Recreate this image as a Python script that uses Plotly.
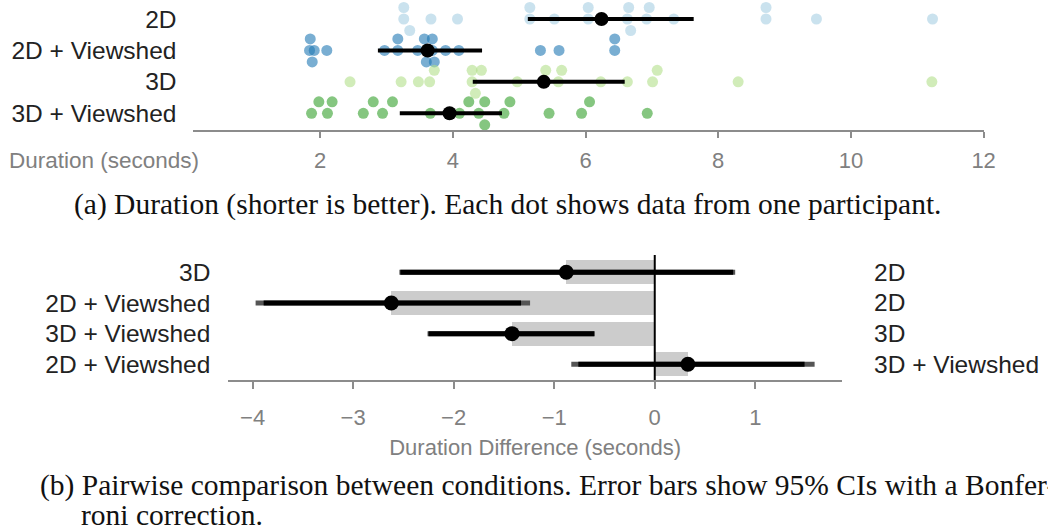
import numpy as np
import plotly.graph_objects as go

W, H = 1049, 527

# ---------------- data ----------------
conditions = ["2D", "2D + Viewshed", "3D", "3D + Viewshed"]

dur_2d = [3.26, 3.26, 3.35, 3.67, 4.07, 5.16, 5.16, 5.53, 6.04, 6.04,
          6.63, 6.65, 6.68, 6.92, 6.96, 7.33, 8.72, 8.72, 9.48, 11.23]
dur_2d_vs = [1.84, 1.85, 1.88, 1.91, 2.10, 2.97, 3.17, 3.17, 3.47, 3.57,
             3.60, 3.69, 3.69, 3.72, 3.89, 4.09, 5.32, 5.60, 6.44, 6.44]
dur_3d = [2.45, 3.22, 3.48, 3.65, 3.72, 4.29, 4.29, 4.34, 4.43, 4.97,
          5.38, 5.40, 5.59, 5.64, 6.23, 6.63, 7.01, 7.08, 8.30, 11.22]
dur_3d_vs = [1.87, 1.98, 2.11, 2.18, 2.65, 2.80, 2.94, 3.09, 3.66, 4.10,
             4.24, 4.39, 4.48, 4.48, 4.77, 4.86, 5.45, 5.94, 6.06, 6.93]
durations = [dur_2d, dur_2d_vs, dur_3d, dur_3d_vs]

dur_mean = [6.24, 3.62, 5.37, 3.95]
dur_ci_low = [5.13, 2.87, 4.30, 3.20]
dur_ci_high = [7.63, 4.44, 6.59, 4.74]

dot_colors = ["rgba(166,206,227,0.6)", "rgba(31,120,180,0.6)",
              "rgba(178,223,138,0.6)", "rgba(51,160,44,0.6)"]

x_ticks_top = [2, 4, 6, 8, 10, 12]

cmp_left = ["3D", "2D + Viewshed", "3D + Viewshed", "2D + Viewshed"]
cmp_right = ["2D", "2D", "3D", "3D + Viewshed"]
diff_mean = [-0.88, -2.62, -1.42, 0.33]
diff_ci_low = [-2.53, -3.89, -2.25, -0.76]
diff_ci_high = [0.78, -1.33, -0.60, 1.49]
diff_bci_low = [-2.54, -3.97, -2.26, -0.83]
diff_bci_high = [0.80, -1.24, -0.60, 1.59]

x_ticks_bottom = [-4, -3, -2, -1, 0, 1]

# ---------------- layout geometry (pixels) ----------------
top_x0, top_x1 = 195.7, 995.0
top_xr = [0.09, 12.0]
top_row_px = [19.0, 50.7, 82.0, 113.3]
P1 = (top_row_px[-1] - top_row_px[0]) / 3.0
top_axis_py = 130.0
top_yr = [-(top_axis_py - top_row_px[-1]) / P1, top_row_px[-1] / P1]

bot_x0, bot_x1 = 231.0, 851.7
bot_xr = [-4.241, 1.862]
bot_row_px = [272.3, 302.7, 333.3, 364.3]
P2 = (bot_row_px[-1] - bot_row_px[0]) / 3.0
bot_axis_py = 380.0
bot_top_py = 255.0
bot_yr = [-(bot_axis_py - bot_row_px[-1]) / P2, (bot_row_px[-1] - bot_top_py) / P2]

px_per_unit = (top_x1 - top_x0) / (top_xr[1] - top_xr[0])
DOT = 11.0
LEVEL_PX = 11.5


def swarm_levels(vals, dmin):
    """Assign each dot to a discrete level (0, +1, -1) so neighbours don't collide."""
    xs = np.asarray(vals, dtype=float) * px_per_unit
    order = np.argsort(xs, kind="stable")
    levels = np.zeros(len(xs))
    placed = {0: [], 1: [], -1: []}
    for i in order:
        x = xs[i]
        chosen = None
        for lv in (0, 1, -1):
            if all(abs(x - p) >= dmin for p in placed[lv]):
                chosen = lv
                break
        if chosen is None:
            best = -1
            for lv in (1, 0, -1):
                md = min(abs(x - p) for p in placed[lv])
                if md > best + 1e-9:
                    best, chosen = md, lv
        placed[chosen].append(x)
        levels[i] = chosen
    return levels


fig = go.Figure()

# top chart: dots
row_vals = [3, 2, 1, 0]
for k, vals in enumerate(durations):
    lv = swarm_levels(vals, 10.5)
    ys = row_vals[k] + lv * LEVEL_PX / P1
    fig.add_trace(go.Scatter(
        x=vals, y=ys, mode="markers", xaxis="x", yaxis="y",
        marker=dict(size=DOT, color=dot_colors[k], line=dict(width=0)),
        cliponaxis=False, showlegend=False, hoverinfo="x"))

# top chart: CI lines and means
lx, ly = [], []
for k in range(4):
    lx += [dur_ci_low[k], dur_ci_high[k], None]
    ly += [row_vals[k], row_vals[k], None]
fig.add_trace(go.Scatter(x=lx, y=ly, mode="lines", xaxis="x", yaxis="y",
                         line=dict(color="black", width=4), showlegend=False,
                         cliponaxis=False))
fig.add_trace(go.Scatter(x=dur_mean, y=row_vals, mode="markers", xaxis="x", yaxis="y",
                         marker=dict(size=14, color="black"), showlegend=False,
                         cliponaxis=False))

# bottom chart
fig.add_trace(go.Bar(x=diff_mean, y=row_vals, orientation="h", xaxis="x2", yaxis="y2",
                     width=0.79, marker=dict(color="#cccccc", line=dict(width=0)),
                     showlegend=False))
gx, gy, bx, by = [], [], [], []
for k in range(4):
    gx += [diff_bci_low[k], diff_bci_high[k], None]
    gy += [row_vals[k], row_vals[k], None]
    bx += [diff_ci_low[k], diff_ci_high[k], None]
    by += [row_vals[k], row_vals[k], None]
fig.add_trace(go.Scatter(x=gx, y=gy, mode="lines", xaxis="x2", yaxis="y2",
                         line=dict(color="#555555", width=5), showlegend=False))
fig.add_trace(go.Scatter(x=bx, y=by, mode="lines", xaxis="x2", yaxis="y2",
                         line=dict(color="black", width=5), showlegend=False))
fig.add_trace(go.Scatter(x=diff_mean, y=row_vals, mode="markers", xaxis="x2", yaxis="y2",
                         marker=dict(size=15, color="black"), showlegend=False,
                         cliponaxis=False))

SANS = "Liberation Sans, Arial, sans-serif"
SERIF = "Liberation Serif, Times New Roman, serif"
GRAY = "#808080"
AXC = "#8c8c8c"
LAB = 24.5

fig.update_layout(
    width=W, height=H, margin=dict(l=0, r=0, t=0, b=0),
    paper_bgcolor="white", plot_bgcolor="white", bargap=0,
    font=dict(family=SANS, color="#222222"),
    xaxis=dict(domain=[top_x0 / W, top_x1 / W], range=top_xr, anchor="y",
               tickvals=x_ticks_top, ticks="outside", ticklen=6, tickwidth=2,
               tickcolor=AXC, showline=True, linecolor=AXC, linewidth=2,
               showgrid=False, zeroline=False, ticklabelstandoff=4,
               tickfont=dict(size=22, color=GRAY, family=SANS)),
    yaxis=dict(domain=[1 - top_axis_py / H, 1], range=top_yr, anchor="x",
               tickvals=row_vals, ticktext=conditions, ticks="", showline=False,
               showgrid=False, zeroline=False, ticklabelstandoff=16,
               tickfont=dict(size=LAB, color="#222222", family=SANS)),
    xaxis2=dict(domain=[bot_x0 / W, bot_x1 / W], range=bot_xr, anchor="y2",
                tickvals=x_ticks_bottom, ticks="outside", ticklen=7, tickwidth=2,
                tickcolor=AXC, showline=True, linecolor=AXC, linewidth=2,
                showgrid=False, zeroline=False, ticklabelstandoff=10,
                tickfont=dict(size=22, color=GRAY, family=SANS),
                title=dict(text="Duration Difference (seconds)", standoff=10,
                           font=dict(size=22, color=GRAY, family=SANS))),
    yaxis2=dict(domain=[1 - bot_axis_py / H, 1 - bot_top_py / H], range=bot_yr,
                anchor="x2", tickvals=row_vals, ticktext=cmp_left, ticks="",
                showline=False, showgrid=False, zeroline=False, ticklabelstandoff=17,
                tickfont=dict(size=LAB, color="#222222", family=SANS)),
)

fig.add_shape(type="line", x0=0, x1=0, xref="x2", y0=0, y1=1, yref="y2 domain",
              line=dict(color="black", width=2), layer="above")

for k in range(4):
    fig.add_annotation(x=882 / W, xref="paper", xanchor="left", y=row_vals[k], yref="y2",
                       text=cmp_right[k], showarrow=False,
                       font=dict(size=LAB, color="#222222", family=SANS))

fig.add_annotation(x=203 / W, xref="paper", xanchor="right", y=1 - 160 / H, yref="paper",
                   yanchor="middle", text="Duration (seconds)", showarrow=False,
                   font=dict(size=22.5, color=GRAY, family=SANS))

CAP = 29.5
fig.add_annotation(x=72.7 / W, xref="paper", xanchor="left", y=1 - 204 / H, yref="paper",
                   yanchor="middle",
                   text="(a) Duration (shorter is better). Each dot shows data from one participant.",
                   showarrow=False, font=dict(size=CAP, color="#111111", family=SERIF))
fig.add_annotation(x=38.3 / W, xref="paper", xanchor="left", y=1 - 485 / H, yref="paper",
                   yanchor="middle", width=W - 38.3 - 3, align="left",
                   text="(b) Pairwise comparison between conditions. Error bars show 95% CIs with a Bonfer-",
                   showarrow=False, font=dict(size=CAP, color="#111111", family=SERIF))
fig.add_annotation(x=80 / W, xref="paper", xanchor="left", y=1 - 514.5 / H, yref="paper",
                   yanchor="middle", height=23, align="left", valign="middle",
                   text="roni correction.",
                   showarrow=False, font=dict(size=CAP, color="#111111", family=SERIF))

fig.write_html("out.html", config={"displayModeBar": False},
               post_script="document.body.style.margin='0';")
